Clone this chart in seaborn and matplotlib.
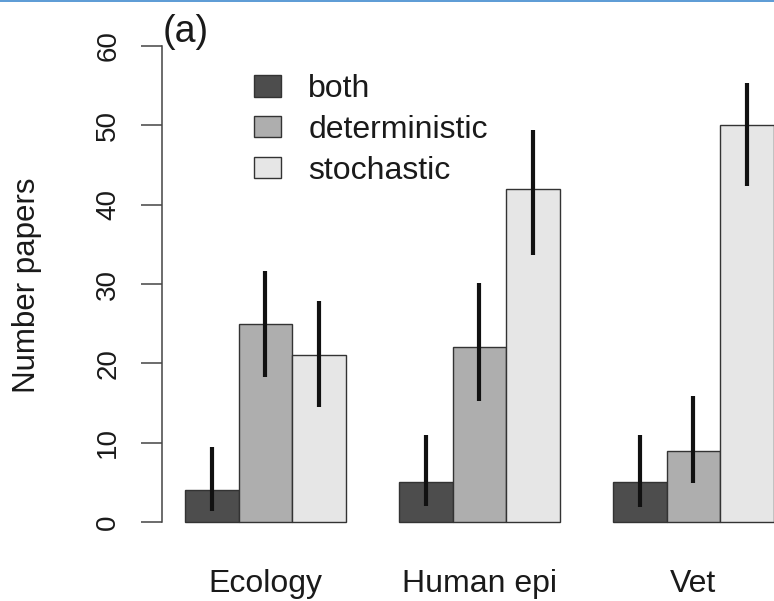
import matplotlib
matplotlib.use("Agg")
import matplotlib.pyplot as plt
import seaborn as sns
import pandas as pd
from matplotlib.lines import Line2D

# ---- data ----
fields = ["Ecology", "Human epi", "Vet"]
types = ["both", "deterministic", "stochastic"]
counts_both = [4, 5, 5]
counts_det = [25, 22, 9]
counts_stoch = [21, 42, 50]
low_both = [1.4, 2.0, 1.9]
high_both = [9.5, 11.0, 11.0]
low_det = [18.3, 15.2, 4.9]
high_det = [31.7, 30.1, 15.9]
low_stoch = [14.5, 33.7, 42.4]
high_stoch = [27.9, 49.4, 55.4]
yticks = [0, 10, 20, 30, 40, 50, 60]
colors = ["#4D4D4D", "#AEAEAE", "#E6E6E6"]

rows = []
for i, f in enumerate(fields):
    for t, c, lo, hi in zip(types,
                            [counts_both, counts_det, counts_stoch],
                            [low_both, low_det, low_stoch],
                            [high_both, high_det, high_stoch]):
        rows.append(dict(field=f, type=t, n=c[i], lo=lo[i], hi=hi[i]))
df = pd.DataFrame(rows)

sns.set_style("white")
plt.rcParams["font.family"] = ["Liberation Sans", "DejaVu Sans"]

W, H = 774, 601
fig = plt.figure(figsize=(W / 100, H / 100), dpi=100)
ax_l, ax_r, ax_b, ax_t = 161.5, 774, 541, 27
ax = fig.add_axes([ax_l / W, (H - ax_b) / H, (ax_r - ax_l) / W, (ax_b - ax_t) / H])

sns.barplot(data=df, x="field", y="n", hue="type", order=fields, hue_order=types,
            palette=colors, width=0.75, gap=0, dodge=True, errorbar=None,
            edgecolor="#333333", linewidth=1.0, saturation=1, ax=ax, legend=False)

# error bars at the centres of the drawn bars (sorted left -> right)
bars = sorted([p for p in ax.patches if p.get_height() > 0], key=lambda p: p.get_x())
for p, (_, r) in zip(bars, df.iterrows()):
    xc = p.get_x() + p.get_width() / 2
    ax.vlines(xc, r["lo"], r["hi"], color="#111111", lw=3.0, zorder=5)

# axes limits (bar units: 4 bar-widths per category)
ax.set_xlim((0.56 - 2.5) / 4, (12.009 - 2.5) / 4)
ax.set_ylim(-2.4, 62.4)

for s in ["top", "right", "bottom"]:
    ax.spines[s].set_visible(False)
ax.spines["left"].set_bounds(0, 60)
ax.spines["left"].set_color("#444444")
ax.spines["left"].set_linewidth(1.1)

ax.set_yticks(yticks)
ax.set_yticklabels([str(v) for v in yticks], rotation=90, va="center")
ax.tick_params(axis="y", length=15, width=1.1, color="#444444", pad=14,
               labelsize=20, labelcolor="#1a1a1a", left=True)
ax.tick_params(axis="x", length=0, pad=20, labelsize=23, labelcolor="#1a1a1a")
ax.set_xlabel("")
ax.set_ylabel("")

fig.text(27 / W, 1 - 285.5 / H, "Number papers", rotation=90, ha="center", va="center",
         fontsize=22.5, color="#1a1a1a")
fig.text(163 / W, 1 - 32.5 / H, "(a)", ha="left", va="center", fontsize=27, color="#1a1a1a")

# legend
handles = [plt.Rectangle((0, 0), 1, 1, facecolor=c, edgecolor="#333333", linewidth=1.0)
           for c in colors]
leg = ax.legend(handles, types, loc="upper left",
                bbox_to_anchor=(254 / W, 1 - 74 / H), bbox_transform=fig.transFigure,
                frameon=False, fontsize=23, handlelength=0.85, handleheight=0.66,
                handletextpad=0.85, labelspacing=0.34, borderpad=0, borderaxespad=0)
for t in leg.get_texts():
    t.set_color("#1a1a1a")

# thin blue border line at the very top of the picture
fig.add_artist(Line2D([0, 1], [1 - 0.8 / H, 1 - 0.8 / H], transform=fig.transFigure,
                      color="#5B9BD5", lw=1.4))

fig.savefig("out.png", dpi=100)
